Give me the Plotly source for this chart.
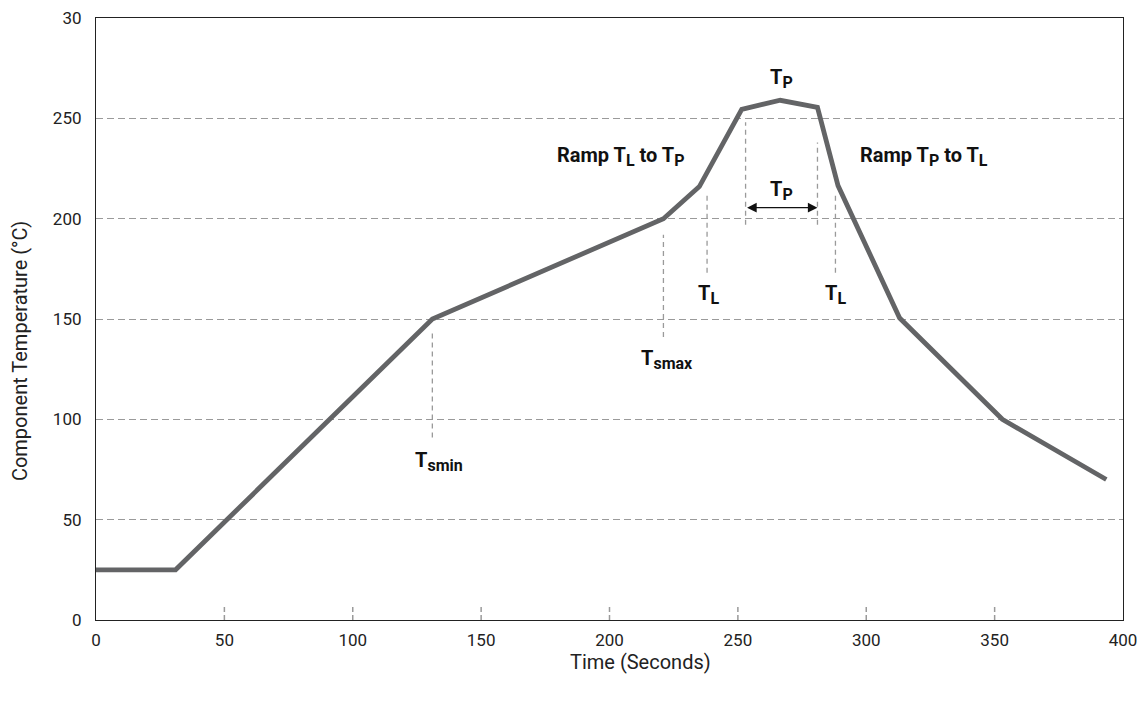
import plotly.graph_objects as go

# ---- data ----
time_s = [0, 31, 131, 221, 235, 251.5, 266.5, 281, 289, 313, 353, 393.5]
temp_c = [25, 25, 150, 200, 216, 254.5, 259, 255.5, 216.5, 150.5, 100, 70]

x_tick_vals = [0, 50, 100, 150, 200, 250, 300, 350, 400]
x_tick_text = ["0", "50", "100", "150", "200", "250", "300", "350", "400"]
y_tick_vals = [0, 50, 100, 150, 200, 250, 300]
y_tick_text = ["0", "50", "100", "150", "200", "250", "30"]

x_minor_marks = [50, 100, 150, 200, 250, 300, 350]
x_mark_height = 7

# dashed marker lines: (x, y_start, y_end)
marker_x = [131, 221, 238, 253, 281, 288]
marker_y0 = [91, 141, 173, 197, 197, 173]
marker_y1 = [143, 192, 212, 248, 238, 212]

# arrow showing time at peak
arrow_x = [253, 281]
arrow_y = 205.5

label_main = ["T", "T", "T", "T", "T", "T", "Ramp T", "Ramp T"]
label_sub1 = ["smin", "smax", "L", "L", "P", "P", "L", "P"]
label_mid = ["", "", "", "", "", "", " to T", " to T"]
label_sub2 = ["", "", "", "", "", "", "P", "L"]
label_x = [133.5, 222.5, 238.5, 288, 267, 267, 204.5, 322.5]
label_y = [79, 130, 162, 162, 270, 214, 231, 231]

x_title = "Time (Seconds)"
y_title = "Component Temperature (°C)"

FONT = "Roboto, Liberation Sans Narrow, sans-serif"
GRID = "#9a9a9a"
SUB = "<sub><span style='font-size:16px'>{}</span></sub>"


def build_label(m, s1, mid, s2):
    t = m + SUB.format(s1)
    if mid:
        t += mid + SUB.format(s2)
    return "<b>" + t + "</b>"


fig = go.Figure()
fig.add_trace(go.Scatter(x=time_s, y=temp_c, mode="lines",
                         line=dict(color="#636466", width=4.8),
                         hoverinfo="skip", showlegend=False))

shapes = []
for xv in x_minor_marks:
    shapes.append(dict(type="line", xref="x", yref="y", x0=xv, x1=xv, y0=0, y1=x_mark_height,
                       line=dict(color=GRID, width=1.5, dash="5px,3px"), layer="below"))
for xv, a, b in zip(marker_x, marker_y0, marker_y1):
    shapes.append(dict(type="line", xref="x", yref="y", x0=xv, x1=xv, y0=a, y1=b,
                       line=dict(color=GRID, width=1.3, dash="5px,4px"), layer="below"))

annotations = []
for m, s1, mid, s2, xv, yv in zip(label_main, label_sub1, label_mid, label_sub2, label_x, label_y):
    annotations.append(dict(x=xv, y=yv, xref="x", yref="y", text=build_label(m, s1, mid, s2),
                            showarrow=False, font=dict(family=FONT, size=20, color="#111")))
annotations.append(dict(x=arrow_x[1], y=arrow_y, ax=arrow_x[0], ay=arrow_y,
                        xref="x", yref="y", axref="x", ayref="y", text="",
                        showarrow=True, arrowhead=2, arrowside="end+start",
                        arrowsize=1.6, arrowwidth=1.2, arrowcolor="#111",
                        standoff=0, startstandoff=0))
# axis titles (placed off-centre as in the reference)
annotations.append(dict(x=212, y=-0.07, xref="x", yref="paper", text=x_title,
                        showarrow=False, font=dict(family=FONT, size=20, color="#222"),
                        yanchor="middle"))
annotations.append(dict(x=-0.074, y=134, xref="paper", yref="y", text=y_title,
                        textangle=-90, showarrow=False,
                        font=dict(family=FONT, size=20, color="#222"), xanchor="center"))

fig.update_layout(
    width=1140, height=702,
    margin=dict(l=96, r=17, t=18, b=82, autoexpand=False),
    paper_bgcolor="white", plot_bgcolor="white",
    font=dict(family=FONT, size=17, color="#222"),
    shapes=shapes, annotations=annotations,
    xaxis=dict(range=[0, 400], tickvals=x_tick_vals, ticktext=x_tick_text,
               showgrid=False, zeroline=False, showline=True, linecolor="#222",
               linewidth=1.2, mirror=True, ticks="", ticklen=0, ticklabelstandoff=4,
               ticklabeloverflow="allow", automargin=False),
    yaxis=dict(range=[0, 300], tickvals=y_tick_vals, ticktext=y_tick_text,
               showgrid=True, gridcolor=GRID, gridwidth=1.3, griddash="7px,4px",
               zeroline=False, showline=True, linecolor="#222",
               linewidth=1.2, mirror=True, ticks="", ticklen=0, ticklabelstandoff=10,
               ticklabeloverflow="allow", automargin=False),
)

fig.write_html("out.html", config={"displayModeBar": False},
               post_script="document.body.style.margin='0';document.body.style.overflow='hidden';")
